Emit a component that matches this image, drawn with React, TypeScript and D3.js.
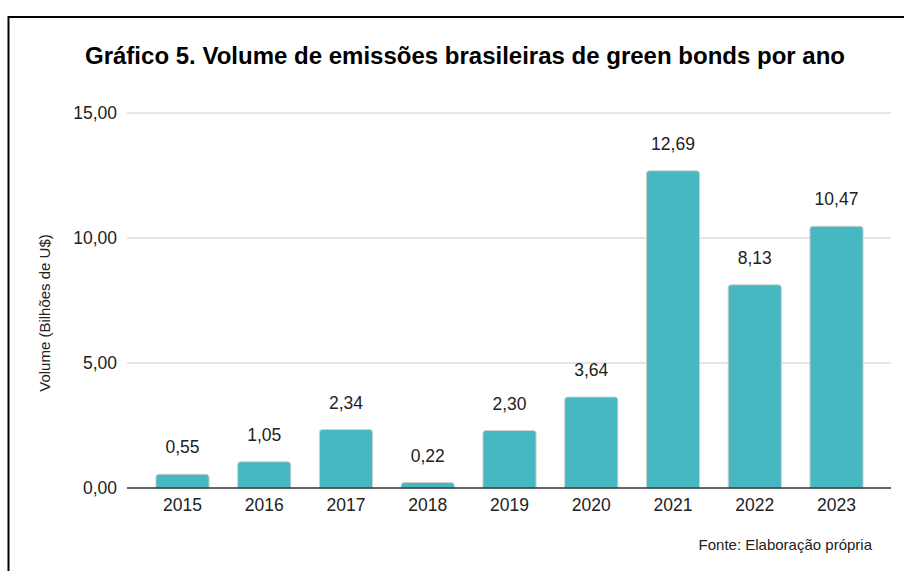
import React from "react";
import * as d3 from "d3";

const years = ["2015", "2016", "2017", "2018", "2019", "2020", "2021", "2022", "2023"];
const volumes = [0.55, 1.05, 2.34, 0.22, 2.3, 3.64, 12.69, 8.13, 10.47];
const yTicks = [0, 5, 10, 15];

const W = 904;
const H = 571;

const fmt = (v: number) => v.toFixed(2).replace(".", ",");

function topRoundedRect(x: number, y: number, w: number, h: number, r: number) {
  const rr = Math.min(r, h, w / 2);
  return `M${x},${y + h}V${y + rr}Q${x},${y} ${x + rr},${y}H${x + w - rr}Q${x + w},${y} ${x + w},${y + rr}V${y + h}Z`;
}

export default function App() {
  const x = d3.scaleBand<string>().domain(years).range([141.6, 877.4]).paddingInner(0.35).paddingOuter(0.175);
  const y = d3.scaleLinear().domain([0, 15]).range([488, 113]);
  const font = "Arial, 'Liberation Sans', sans-serif";
  return (
    <svg width={W} height={H} style={{ position: "absolute", left: 0, top: 0, background: "#fff" }} fontFamily={font}>
      <rect x={0} y={0} width={W} height={H} fill="#fff" />
      <line x1={8.5} y1={17} x2={W + 5} y2={17} stroke="#000" strokeWidth={2} />
      <line x1={8.5} y1={16} x2={8.5} y2={H + 5} stroke="#000" strokeWidth={2} />
      <text x={465} y={64} textAnchor="middle" fontSize={23.5} fontWeight="bold" fill="#000" textLength={760} lengthAdjust="spacingAndGlyphs">
        Gráfico 5. Volume de emissões brasileiras de green bonds por ano
      </text>
      {yTicks.map((t) => (
        <g key={t}>
          {t !== 0 && <line x1={127} x2={891} y1={y(t)} y2={y(t)} stroke="#cccccc" strokeWidth={1} />}
          <text x={117} y={y(t)} dy="0.35em" textAnchor="end" fontSize={17.5} fill="#222">
            {fmt(t)}
          </text>
        </g>
      ))}
      <text transform={`translate(50,313) rotate(-90)`} textAnchor="middle" fontSize={15} fill="#222">
        Volume (Bilhões de U$)
      </text>
      {years.map((yr, i) => {
        const bx = x(yr)!;
        const bw = x.bandwidth();
        const top = y(volumes[i]);
        return (
          <g key={yr}>
            <path d={topRoundedRect(bx, top, bw, y(0) - top, 3)} fill="#46b8c2" stroke="#d0d0d0" strokeWidth={1} />
            <text x={bx + bw / 2} y={top - 21} textAnchor="middle" fontSize={17.5} fill="#222">
              {fmt(volumes[i])}
            </text>
            <text x={bx + bw / 2} y={511} textAnchor="middle" fontSize={17.5} fill="#222">
              {yr}
            </text>
          </g>
        );
      })}
      <line x1={127} x2={891} y1={y(0)} y2={y(0)} stroke="#333" strokeWidth={1.3} />
      <text x={872} y={550} textAnchor="end" fontSize={15} fill="#222">
        Fonte: Elaboração própria
      </text>
    </svg>
  );
}
